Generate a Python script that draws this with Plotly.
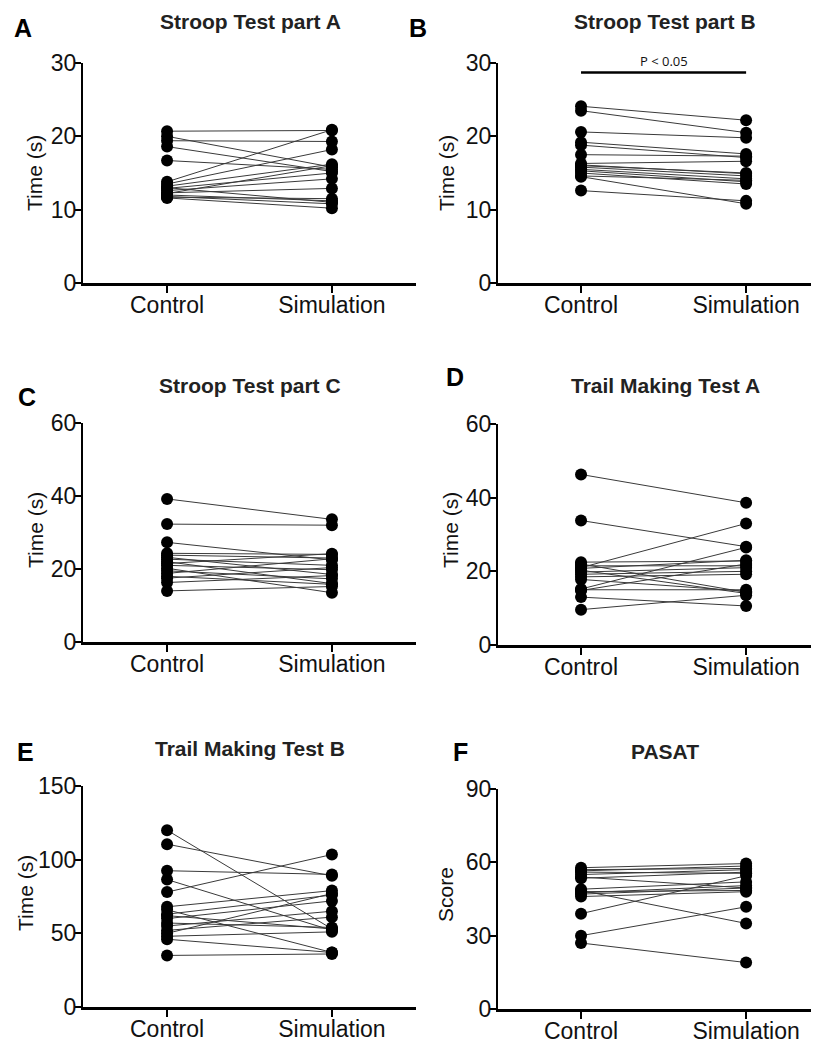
import plotly.graph_objects as go

# ---------------- data ----------------
CATEGORIES = ["Control", "Simulation"]

PANEL_LETTERS = ["A", "B", "C", "D", "E", "F"]
PANEL_TITLES = ["Stroop Test part A", "Stroop Test part B", "Stroop Test part C",
                "Trail Making Test A", "Trail Making Test B", "PASAT"]
Y_TITLES = ["Time (s)", "Time (s)", "Time (s)", "Time (s)", "Time (s)", "Score"]

Y_TICKS_A = [0, 10, 20, 30]
Y_TICKS_B = [0, 10, 20, 30]
Y_TICKS_C = [0, 20, 40, 60]
Y_TICKS_D = [0, 20, 40, 60]
Y_TICKS_E = [0, 50, 100, 150]
Y_TICKS_F = [0, 30, 60, 90]

stroop_a_control = [20.7, 20.0, 19.4, 18.6, 16.7, 13.8, 13.5, 13.2, 12.9, 12.6, 12.3, 12.0, 11.8, 11.6, 13.0, 12.2, 11.7]
stroop_a_simulation = [20.8, 15.8, 19.3, 15.2, 15.5, 20.9, 18.2, 16.2, 15.0, 14.2, 12.9, 11.2, 10.8, 10.2, 11.0, 16.0, 11.5]

stroop_b_control = [24.1, 23.5, 20.6, 19.2, 18.8, 17.5, 16.3, 16.0, 15.8, 15.5, 15.3, 15.0, 14.6, 12.6, 14.5, 16.1]
stroop_b_simulation = [22.2, 20.5, 19.8, 17.6, 17.1, 17.3, 16.6, 15.0, 14.6, 14.2, 13.8, 13.5, 14.0, 11.2, 10.8, 14.9]

stroop_c_control = [39.2, 32.3, 27.3, 24.3, 23.8, 23.2, 22.7, 22.0, 21.5, 21.0, 20.2, 19.5, 18.8, 17.5, 16.3, 14.0, 18.0]
stroop_c_simulation = [33.6, 32.0, 22.5, 24.0, 23.0, 18.5, 21.0, 16.0, 24.2, 19.8, 13.5, 17.3, 22.8, 20.4, 18.2, 15.2, 15.8]

tmt_a_control = [46.3, 33.8, 21.0, 22.5, 22.0, 21.5, 20.8, 20.3, 19.8, 19.2, 18.5, 17.8, 15.2, 14.8, 13.0, 9.6, 15.0]
tmt_a_simulation = [38.6, 26.7, 33.0, 22.8, 14.3, 21.5, 23.0, 14.0, 21.0, 20.0, 19.2, 14.6, 26.5, 22.0, 10.6, 13.5, 15.0]

tmt_b_control = [120.0, 110.5, 92.5, 86.5, 78.0, 68.0, 66.0, 63.0, 60.0, 57.0, 55.0, 52.0, 50.0, 48.0, 46.0, 35.0, 62.0]
tmt_b_simulation = [53.0, 89.0, 90.0, 52.0, 103.5, 79.0, 37.0, 76.0, 72.0, 54.0, 65.0, 61.0, 77.0, 51.0, 37.0, 36.0, 53.0]

pasat_control = [57.8, 57.0, 56.5, 56.0, 55.0, 54.0, 53.5, 48.5, 48.0, 47.5, 47.0, 46.0, 39.0, 30.0, 27.0, 49.0]
pasat_simulation = [59.5, 57.5, 58.5, 55.5, 57.0, 49.5, 56.0, 35.0, 48.5, 50.5, 49.5, 48.0, 54.5, 41.8, 19.0, 52.0]

SIGNIFICANCE_TEXT = "P < 0.05"
SIGNIFICANCE_Y = 28.7   # value level of the bracket in panel B

PANEL_DATA = [
    (stroop_a_control, stroop_a_simulation, Y_TICKS_A),
    (stroop_b_control, stroop_b_simulation, Y_TICKS_B),
    (stroop_c_control, stroop_c_simulation, Y_TICKS_C),
    (tmt_a_control, tmt_a_simulation, Y_TICKS_D),
    (tmt_b_control, tmt_b_simulation, Y_TICKS_E),
    (pasat_control, pasat_simulation, Y_TICKS_F),
]

# ---------------- layout geometry (screen pixels of the 819 x 1039 view) ----------------
W, H = 819, 1039
OFF = 8  # page body margin: the figure starts 8px right/down of the window corner
FONT = "Liberation Sans, Arial, sans-serif"


def px_x(x):
    return (x - OFF) / W


def px_y(y):
    return 1 - (y - OFF) / H


# (axis left px, axis right px, top px, bottom px, x-range)
GEOM = [
    (83, 416, 63, 283, [-0.51, 1.51]),
    (498, 827, 63, 283, [-0.503, 1.49]),
    (83, 416, 423, 642, [-0.51, 1.51]),
    (498, 827, 424, 645, [-0.503, 1.49]),
    (83, 416, 786, 1007, [-0.51, 1.51]),
    (498, 827, 789, 1009, [-0.503, 1.49]),
]
# letter (x, y), title (x, y), y-title (x, y)
LABEL_POS = [
    ((23, 28), (250, 22), (35, 173)),
    ((418, 28), (665, 22), (447, 173)),
    ((27, 397), (250, 385), (35, 530)),
    ((455, 377), (665, 385), (450, 530)),
    ((25, 752), (250, 748), (25, 893)),
    ((460, 752), (665, 751), (445, 895)),
]

fig = go.Figure()
layout_axes = {}
annotations = []

for i, ((ctrl, sim, yticks), (xl, xr, yt, yb, xrange)) in enumerate(zip(PANEL_DATA, GEOM)):
    n = i + 1
    xname = "x" if n == 1 else f"x{n}"
    yname = "y" if n == 1 else f"y{n}"
    # connecting lines
    lx, ly = [], []
    for c, s in zip(ctrl, sim):
        lx += [CATEGORIES[0], CATEGORIES[1], None]
        ly += [c, s, None]
    fig.add_trace(go.Scatter(x=lx, y=ly, mode="lines", xaxis=xname, yaxis=yname,
                             line=dict(color="#3a3a3a", width=1), hoverinfo="skip",
                             connectgaps=False))
    # markers
    fig.add_trace(go.Scatter(x=[CATEGORIES[0]] * len(ctrl) + [CATEGORIES[1]] * len(sim),
                             y=list(ctrl) + list(sim), mode="markers",
                             xaxis=xname, yaxis=yname,
                             marker=dict(color="black", size=12, line=dict(width=0))))

    xkey = "xaxis" if n == 1 else f"xaxis{n}"
    ykey = "yaxis" if n == 1 else f"yaxis{n}"
    layout_axes[xkey] = dict(
        domain=[px_x(xl), min(px_x(xr), 1.0)], anchor=yname, type="category",
        categoryorder="array", categoryarray=CATEGORIES, range=xrange,
        showline=True, linewidth=2.5, linecolor="black", mirror=False,
        ticks="outside", ticklen=7, tickwidth=2, tickcolor="black",
        tickfont=dict(family=FONT, size=23, color="#111"),
        ticklabelstandoff=-7, automargin=False,
        showgrid=False, zeroline=False, fixedrange=True)
    layout_axes[ykey] = dict(
        domain=[px_y(yb), px_y(yt)], anchor=xname,
        range=[0, yticks[-1]], tickvals=yticks,
        showline=True, linewidth=2, linecolor="black",
        ticks="outside", ticklen=6, tickwidth=2, tickcolor="black",
        tickfont=dict(family=FONT, size=23, color="#111"),
        ticklabelstandoff=-6, automargin=False,
        showgrid=False, zeroline=False, fixedrange=True)

    (lxp, lyp), (txp, typ), (yxp, yyp) = LABEL_POS[i]
    annotations.append(dict(text=f"<b>{PANEL_LETTERS[i]}</b>", x=px_x(lxp), y=px_y(lyp),
                            xref="paper", yref="paper", showarrow=False,
                            xanchor="center", yanchor="middle",
                            font=dict(family=FONT, size=25, color="black")))
    annotations.append(dict(text=f"<b>{PANEL_TITLES[i]}</b>", x=px_x(txp), y=px_y(typ),
                            xref="paper", yref="paper", showarrow=False,
                            xanchor="center", yanchor="middle",
                            font=dict(family=FONT, size=21, color="#222")))
    annotations.append(dict(text=Y_TITLES[i], x=px_x(yxp), y=px_y(yyp),
                            xref="paper", yref="paper", showarrow=False, textangle=-90,
                            xanchor="center", yanchor="middle",
                            font=dict(family=FONT, size=21, color="#111")))

# significance bracket on panel B
annotations.append(dict(text=SIGNIFICANCE_TEXT, x=0.5, y=SIGNIFICANCE_Y, xref="x2", yref="y2",
                        showarrow=False, yanchor="bottom", yshift=1,
                        font=dict(family="Open Sans, sans-serif", size=13, color="#111")))
shapes = [dict(type="line", xref="x2", yref="y2", x0=0, x1=1,
               y0=SIGNIFICANCE_Y, y1=SIGNIFICANCE_Y, line=dict(color="black", width=2.5))]

fig.update_layout(
    template="none",
    width=W, height=H, margin=dict(l=0, r=0, t=0, b=0, pad=0),
    paper_bgcolor="white", plot_bgcolor="white", showlegend=False,
    annotations=annotations, shapes=shapes, **layout_axes)

fig.write_html("out.html")
